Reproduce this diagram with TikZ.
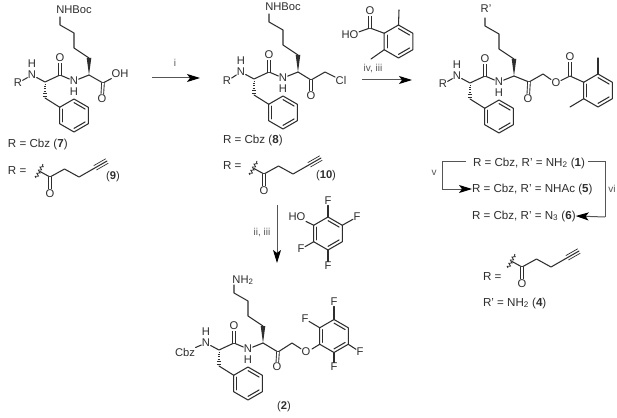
\documentclass[tikz,border=0pt]{standalone}
\usepackage{fontspec}
\setmainfont{Liberation Sans}
\usetikzlibrary{calc,arrows.meta,decorations.pathmorphing}
\definecolor{ink}{HTML}{2E2E2E}
\definecolor{soft}{HTML}{555555}
\tikzset{
  atom/.style={inner sep=0.6pt,outer sep=0pt,text=ink,font=\fontsize{11.2}{12}\selectfont},
  txt/.style={inner sep=0pt,outer sep=0pt,text=ink,font=\fontsize{11.6}{12}\selectfont,anchor=west},
  cond/.style={inner sep=0pt,text=soft,font=\fontsize{10}{11}\selectfont},
  bond/.style={draw=ink,line width=1.05pt,line cap=round,line join=round},
  dbl/.style={draw=ink,line width=0.9pt,double=white,double distance=1.7pt},
  rxn/.style={draw=soft,line width=1pt,-{Stealth[length=13pt,width=8pt,inset=3pt,color=black,fill=black]}},
  brk/.style={draw=soft,line width=1pt},
}
% hexagon, double bonds left, top right, bottom right
\newcommand{\hexring}[1]{%
  \coordinate (cen) at (#1);
  \foreach \k/\a in {1/30,2/90,3/150,4/210,5/270,6/330}{\coordinate (v\k) at ($(cen)+(\a:16.5)$);}
  \draw[bond] (v1)--(v2)--(v3)--(v4)--(v5)--(v6)--cycle;
  \foreach \p/\q in {3/4,5/6,1/2}{%
    \draw[bond] ($(cen)!0.78!(v\p)$)--($(cen)!0.78!(v\q)$);}
}
% peptide core, origin = compound 7
\newcommand{\pepcore}[4]{% top label pos, top label, R label pos, R text
  \node[atom] (top) at (#1) {#2};
  \coordinate (top1) at (60,17);
  \coordinate (c1) at (60,25);
  \coordinate (c2) at (74,33);
  \coordinate (c3) at (74,48);
  \coordinate (c4) at (89,58);
  \coordinate (st) at (89,75);
  \coordinate (amc) at (60,75);
  \coordinate (pa) at (45,82);
  \coordinate (pb) at (45,98);
  \node[atom] (amo) at (60,58) {O};
  \node[atom] (n2) at (74,81) {N};
  \node[atom] (h2) at (74,92) {H};
  \node[atom] (n1) at (32,75) {N};
  \node[atom] (h1) at (32,64) {H};
  \node[atom] (rl) at (#3) {#4};
  \draw[bond] (top1)--(c1)--(c2)--(c3)--(c4);
  \fill[ink] (st)--($(c4)+(-2.3,0)$)--($(c4)+(2.3,0)$)--cycle;
  \draw[bond] (st)--(n2)--(amc)--(pa)--(n1)--(rl);
  \draw[dbl] (amc)--(amo);
  \foreach \t in {0.12,0.27,0.42,0.57,0.72,0.87}{%
    \draw[ink,line width=0.6pt] ($(pa)!\t!(pb)+({-2.4*\t},0)$)--($(pa)!\t!(pb)+({2.4*\t},0)$);}
  \hexring{74,115.5}
  \draw[bond] (pb)--(v4);
}
% alkyne acyl fragment, origin = carbonyl carbon
\newcommand{\yne}{%
  \coordinate (a0) at (0,0);
  \node[atom] (ao) at (0,17) {O};
  \coordinate (a1) at (14.5,-8);
  \coordinate (a2) at (29,0);
  \coordinate (a3) at (43,-8);
  \coordinate (a4) at (57,-16);
  \coordinate (as) at (-10,-5.5);
  \coordinate (s1) at (-14,1);
  \coordinate (s2) at (-7,-13);
  \draw[bond] (as)--(a0)--(a1)--(a2)--(a3);
  \draw[dbl] (a0)--(ao);
  \draw[bond] (a3)--(a4);
  \draw[ink,line width=0.7pt] ($(a3)!0.15!(a4)+(-1.3,-2.2)$)--($(a3)!1!(a4)+(-1.3,-2.2)$);
  \draw[ink,line width=0.7pt] ($(a3)!0.15!(a4)+(1.3,2.2)$)--($(a3)!1!(a4)+(1.3,2.2)$);
  \draw[ink,line width=0.8pt,decorate,decoration={snake,segment length=3.5pt,amplitude=1.4pt}] (s1)--(s2);
}
\begin{document}
\begin{tikzpicture}[x=1pt,y=-1pt]
\useasboundingbox[fill=white] (0,0) rectangle (617,417);

% compound 7
\begin{scope}[name prefix=m7-]
  \pepcore{74,10}{NHBoc}{18,83}{R}
  \coordinate (ac) at (103,83);
  \node[atom] (aco) at (102,99) {O};
  \node[atom] (acoh) at (120,74) {OH};
  \draw[bond] (st)--(ac)--(acoh);
  \draw[dbl] (ac)--(aco);
\end{scope}
\node[txt] (t7) at (8,144) {R = Cbz (\textbf{7})};
\node[txt] (t9r) at (8,171) {R =};
\begin{scope}[shift={(50,177)},name prefix=y9-]\yne\end{scope}
\node[atom] (t9) at (113,177) {(\textbf{9})};

% arrow i
\coordinate (ai1) at (152,78);
\coordinate (ai2) at (200,78);
\draw[rxn] (ai1)--(ai2);
\node[cond] (li) at (175,63) {i};

% compound 8
\begin{scope}[shift={(209,-3)},name prefix=m8-]
  \pepcore{74,10}{NHBoc}{18,84}{R}
  \coordinate (kc) at (102,83);
  \node[atom] (ko) at (102,99) {O};
  \coordinate (kch) at (116,75);
  \node[atom] (cl) at (132,83) {Cl};
  \draw[bond] (st)--(kc)--(kch)--(cl);
  \draw[dbl] (kc)--(ko);
\end{scope}
\node[txt] (t8) at (223,140) {R = Cbz (\textbf{8})};
\node[txt] (t10r) at (223,166) {R =};
\begin{scope}[shift={(264,174)},name prefix=y10-]\yne\end{scope}
\node[atom] (t10) at (326,176) {(\textbf{10})};

% benzoic acid reagent
\begin{scope}[name prefix=ba-]
  \hexring{398.5,41.5}
  \coordinate (bc) at (370,28);
  \node[atom] (bo) at (370,11) {O};
  \node[atom] (boh) at (350,35) {HO};
  \coordinate (bm1) at (399,10);
  \coordinate (bm2) at (371,59);
  \draw[bond] (boh)--(bc)--(v4);
  \draw[dbl] (bc)--(bo);
  \draw[bond] (v5)--(bm1);
  \draw[bond] (v3)--(bm2);
\end{scope}

% arrow iv, iii
\coordinate (aiv1) at (362,80);
\coordinate (aiv2) at (412,80);
\draw[rxn] (aiv1)--(aiv2);
\node[cond] (liv) at (373,69) {iv, iii};

% compound 1 family
\begin{scope}[shift={(425,1)},name prefix=m1-]
  \pepcore{61,8}{R'}{18,83}{R}
  \coordinate (kc) at (104,81);
  \node[atom] (ko) at (103,98) {O};
  \coordinate (kch) at (118,73);
  \node[atom] (eo) at (131,82) {O};
  \coordinate (ec) at (145,75);
  \node[atom] (eco) at (145,56) {O};
  \draw[bond] (st)--(kc)--(kch)--(eo)--(ec);
  \draw[dbl] (kc)--(ko);
  \draw[dbl] (ec)--(eco);
\end{scope}
\begin{scope}[name prefix=er-]
  \hexring{598,90.5}
  \coordinate (ec) at (570,76);
  \coordinate (m1) at (598,58);
  \coordinate (m2) at (570,107);
  \draw[bond] (ec)--(v4);
  \draw[bond] (v5)--(m1);
  \draw[bond] (v3)--(m2);
\end{scope}

% R lists
\node[txt] (r1) at (473,163) {R = Cbz, R' = NH\textsubscript{2} (\textbf{1})};
\node[txt] (r5) at (472,189) {R = Cbz, R' = NHAc (\textbf{5})};
\node[txt] (r6) at (472,216) {R = Cbz, R' = N\textsubscript{3} (\textbf{6})};
\coordinate (bl1) at (442,161);
\coordinate (bl2) at (442,189);
\coordinate (br1) at (605,161);
\coordinate (br2) at (605,217);
\draw[brk] (r1.west)++(-7,-2)--(bl1)--(bl2);
\draw[rxn] (bl2)--(r5.west);
\draw[brk] (r1.east)++(3,-2)--(br1)--(br2);
\draw[rxn] (br2)--(r6.east);
\node[cond] (lv) at (434,173) {v};
\node[cond] (lvi) at (612,189) {vi};

\node[txt] (t4r) at (483,277) {R =};
\begin{scope}[shift={(522,267)},name prefix=y4-]\yne\end{scope}
\node[txt] (t4) at (483,303) {R' = NH\textsubscript{2} (\textbf{4})};

% arrow ii, iii
\coordinate (aii1) at (277,205);
\coordinate (aii2) at (277,263);
\draw[rxn] (aii1)--(aii2);
\node[cond] (lii) at (262,233) {ii, iii};

% tetrafluorophenol
\begin{scope}[name prefix=tf-]
  \hexring{328,233.5}
  \node[atom] (oh) at (297,217) {HO};
  \node[atom] (f1) at (328,201) {F};
  \node[atom] (f2) at (357,217) {F};
  \node[atom] (f3) at (328,266) {F};
  \node[atom] (f4) at (301,249) {F};
  \draw[bond] (oh)--(v4);
  \draw[bond] (f1)--(v5);
  \draw[bond] (f2)--(v6);
  \draw[bond] (f3)--(v2);
  \draw[bond] (f4)--(v3);
\end{scope}

% compound 2
\begin{scope}[shift={(174,268)},name prefix=m2-]
  \pepcore{69,12}{NH\textsubscript{2}}{11,84}{Cbz}
  \coordinate (kc) at (104,84);
  \node[atom] (ko) at (103,99) {O};
  \coordinate (kch) at (118,75);
  \node[atom] (eo) at (132,84) {O};
  \draw[bond] (st)--(kc)--(kch)--(eo);
  \draw[dbl] (kc)--(ko);
\end{scope}
\begin{scope}[name prefix=pf-]
  \hexring{334,336}
  \node[atom] (f1) at (334,302) {F};
  \node[atom] (f2) at (305,319) {F};
  \node[atom] (f3) at (334,367) {F};
  \node[atom] (f4) at (360,352) {F};
  \coordinate (eo) at (312,349);
  \draw[bond] (eo)--(v3);
  \draw[bond] (f1)--(v5);
  \draw[bond] (f2)--(v4);
  \draw[bond] (f3)--(v2);
  \draw[bond] (f4)--(v1);
\end{scope}
\node[atom] (t2) at (284,407) {(\textbf{2})};
\end{tikzpicture}
\end{document}
